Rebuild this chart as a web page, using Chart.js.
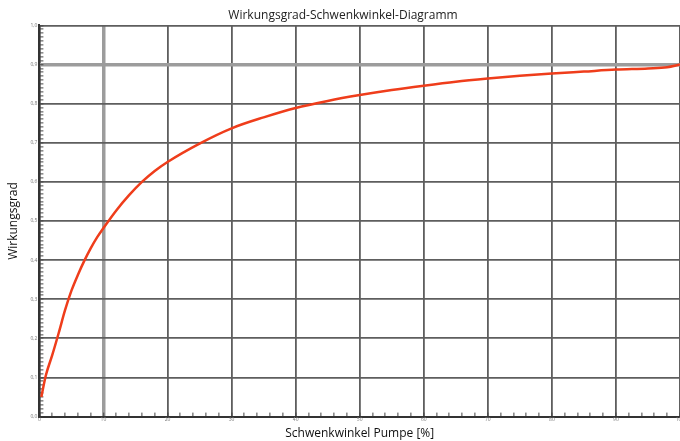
<!DOCTYPE html>
<html>
<head>
<meta charset="utf-8">
<script src="https://cdn.jsdelivr.net/npm/chart.js@4"></script>
<style>
    body { margin: 0; background: #fff; }
    #wrap { width: 680px; height: 441px; }
</style>
</head>
<body>
<div id="wrap"><canvas id="chart"></canvas></div>
<script>
const schwenkwinkel = [0.3, 1, 2, 3, 4, 5, 6, 7, 8, 9, 10, 12, 14, 16, 18, 20, 25, 30, 35, 40, 45, 50, 55, 60, 65, 70, 75, 80, 85, 90, 95, 98, 100];
const wirkungsgrad = [0.05, 0.105, 0.157, 0.213, 0.272, 0.322, 0.362, 0.398, 0.43, 0.458, 0.482, 0.527, 0.566, 0.600, 0.628, 0.651, 0.698, 0.737, 0.765, 0.789, 0.807, 0.822, 0.835, 0.846, 0.856, 0.864, 0.871, 0.877, 0.882, 0.887, 0.890, 0.893, 0.900];
const xTickLabels = ["0", "10", "20", "30", "40", "50", "60", "70", "80", "90", "100"];
const yTickLabels = ["0,0", "0,1", "0,2", "0,3", "0,4", "0,5", "0,6", "0,7", "0,8", "0,9", "1,0"];

document.addEventListener("DOMContentLoaded", function () {
    const points = schwenkwinkel.map((x, i) => ({ x: x, y: wirkungsgrad[i] }));

    const tickFont = { family: "Open Sans", size: 5 };

    const options = {
        responsive: true,
        maintainAspectRatio: false,
        animation: false,
        layout: { padding: { left: 6, right: 0, top: 0, bottom: 0 } },
        plugins: {
            legend: { display: false },
            tooltip: { enabled: false },
            title: {
                display: true,
                text: "Wirkungsgrad-Schwenkwinkel-Diagramm",
                color: "#222",
                font: { family: "Open Sans", size: 12, weight: "normal" },
                padding: { top: 8, bottom: 3 },
            },
        },
        scales: {
            x: {
                type: "linear",
                min: 0,
                max: 100,
                afterFit: (scale) => { scale.paddingRight = 0; },
                ticks: {
                    stepSize: 2,
                    autoSkip: false,
                    maxRotation: 0,
                    color: "#777",
                    font: tickFont,
                    padding: 4,
                    callback: (v) => (Math.round(v) % 10 === 0 ? xTickLabels[Math.round(v) / 10] : ""),
                },
                grid: {
                    color: (ctx) => {
                        const v = Math.round(ctx.tick.value);
                        if (v % 10 !== 0) return "transparent";
                        return v === 10 ? "#9c9c9c" : "#5e5e5e";
                    },
                    lineWidth: (ctx) => (Math.round(ctx.tick.value) === 10 ? 3.5 : 1.8),
                    tickColor: "#444",
                    tickWidth: 1,
                    tickLength: -4,
                },
                border: { color: "#333", width: 2 },
                title: {
                    display: true,
                    text: "Schwenkwinkel Pumpe [%]",
                    color: "#111",
                    font: { family: "Open Sans", size: 12 },
                    padding: { top: 0, bottom: 0 },
                },
            },
            y: {
                min: 0,
                max: 1,
                ticks: {
                    stepSize: 0.01,
                    autoSkip: false,
                    maxTicksLimit: 200,
                    color: "#777",
                    font: tickFont,
                    padding: 6,
                    callback: (v) => {
                        const n = Math.round(v * 100);
                        return n % 10 === 0 ? yTickLabels[n / 10] : "";
                    },
                },
                grid: {
                    color: (ctx) => {
                        const n = Math.round(ctx.tick.value * 100);
                        if (n % 10 !== 0) return "transparent";
                        return n === 90 ? "#9c9c9c" : "#5e5e5e";
                    },
                    lineWidth: (ctx) => (Math.round(ctx.tick.value * 100) === 90 ? 3.5 : 1.8),
                    tickColor: "#444",
                    tickWidth: 1,
                    tickLength: -4,
                },
                border: { color: "#333", width: 2 },
                title: {
                    display: true,
                    text: "Wirkungsgrad",
                    color: "#111",
                    font: { family: "Open Sans", size: 12 },
                    padding: { top: 0, bottom: 4 },
                },
            },
        },
    };

    new Chart(document.getElementById("chart"), {
        type: "line",
        data: {
            datasets: [
                {
                    data: points,
                    borderColor: "#ef3d1b",
                    borderWidth: 2.5,
                    pointRadius: 0,
                    fill: false,
                    cubicInterpolationMode: "monotone",
                },
            ],
        },
        options: options,
    });
});
</script>
</body>
</html>
